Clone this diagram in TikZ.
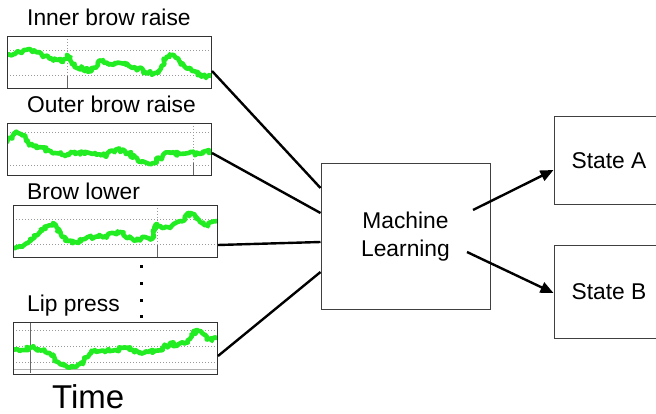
\documentclass[tikz,border=0pt]{standalone}
\usepackage{fontspec}
\setmainfont{Liberation Sans}
\usetikzlibrary{decorations.pathmorphing,arrows.meta,calc}
\definecolor{sgreen}{RGB}{34,236,34}
\begin{document}
\begin{tikzpicture}[x=1pt,y=-1pt,
  plotbox/.style={draw=black!80,line width=1pt,minimum width=204pt,minimum height=52pt,inner sep=0pt,anchor=north west},
  lbl/.style={font=\fontsize{22.8}{26}\selectfont,anchor=base west,inner sep=0pt},
  stbox/.style={draw=black!75,line width=1pt,inner sep=0pt,font=\fontsize{22.8}{28}\selectfont,align=center},
  conn/.style={line width=2.4pt},
  arr/.style={conn,-{Triangle[length=13pt,width=11pt]}},
  sig/.style={draw=sgreen,line width=4.6pt,line join=round,line cap=round,decorate,decoration={random steps,segment length=2pt,amplitude=2.2pt}},
  gridln/.style={draw=black!40,line width=0.7pt,dash pattern=on 0.8pt off 2.2pt},
  tickln/.style={draw=black!60,line width=0.7pt}
]
\pgfmathsetseed{7}
\useasboundingbox (0,0) rectangle (656,414);

% labels
\node[lbl] (l1) at (27,26) {Inner brow raise};
\node[lbl] (l2) at (27,113) {Outer brow raise};
\node[lbl] (l3) at (27,200) {Brow lower};
\node[lbl] (l4) at (27,311) {Lip press};
\node[lbl,font=\fontsize{33}{36}\selectfont] (time) at (52,408.5) {Time};

% plot 1
\draw[gridln] (7,50) -- (211,50) (7,75) -- (211,75);
\draw[gridln] (67,36) -- (67,88);
\draw[tickln] (67,76) -- (67,88);
\begin{scope}
\clip (7,36) rectangle (211,88);
\draw[sig] (7,55) -- (15,54) -- (22,52) -- (30,49) -- (36,52) -- (43,57) -- (50,58) -- (57,60) -- (63,62) -- (67,55) -- (72,64) -- (77,68) -- (85,69) -- (92,70) -- (98,65) -- (103,60) -- (108,64) -- (115,63) -- (125,63) -- (135,67) -- (145,72) -- (155,73) -- (160,70) -- (165,60) -- (170,55) -- (176,58) -- (180,62) -- (185,67) -- (192,71) -- (200,74) -- (206,78) -- (211,76);
\end{scope}
\node[plotbox] (p1) at (7,36) {};

% plot 2
\draw[gridln] (7,132) -- (211,132) (7,165) -- (211,165);
\draw[gridln] (193,123) -- (193,175);
\draw[tickln] (193,163) -- (193,175);
\begin{scope}
\clip (7,123) rectangle (211,175);
\draw[sig] (7,142) -- (12,137) -- (18,133) -- (22,135) -- (27,140) -- (33,146) -- (40,147) -- (48,150) -- (55,153) -- (65,156) -- (75,152) -- (85,154) -- (95,153) -- (105,156) -- (115,150) -- (125,151) -- (135,157) -- (142,162) -- (150,164) -- (157,161) -- (163,155) -- (170,153) -- (180,154) -- (190,152) -- (200,154) -- (211,152);
\end{scope}
\node[plotbox] (p2) at (7,123) {};

% plot 3
\draw[gridln] (13,219) -- (217,219) (13,244) -- (217,244);
\draw[gridln] (157,205) -- (157,257);
\draw[tickln] (157,245) -- (157,257);
\begin{scope}
\clip (13,205) rectangle (217,257);
\draw[sig] (13,248) -- (20,246) -- (28,243) -- (35,237) -- (42,231) -- (48,226) -- (53,223) -- (57,228) -- (62,237) -- (68,241) -- (75,242) -- (85,239) -- (95,237) -- (105,236) -- (113,233) -- (120,232) -- (127,238) -- (135,240) -- (145,237) -- (152,239) -- (157,224) -- (162,228) -- (170,228) -- (178,222) -- (185,218) -- (190,213) -- (195,216) -- (200,222) -- (207,225) -- (217,221);
\end{scope}
\node[plotbox] (p3) at (13,205) {};

% dots
\foreach \yy in {266,283,300,316} \fill (139.5,\yy-1.5) rectangle (142.5,\yy+1.5);

% plot 4
\draw[gridln] (13,330) -- (217,330) (13,346) -- (217,346) (13,362) -- (217,362);
\draw[draw=black!30,line width=0.8pt] (13,369) -- (217,369);
\draw[tickln] (30,322) -- (30,373);
\begin{scope}
\clip (13,322) rectangle (217,373);
\draw[sig] (13,350) -- (22,350) -- (30,348) -- (38,349) -- (45,352) -- (52,356) -- (58,362) -- (65,365) -- (72,367) -- (80,364) -- (88,357) -- (95,350) -- (105,352) -- (115,350) -- (125,347) -- (133,350) -- (140,352) -- (148,352) -- (155,351) -- (162,349) -- (170,343) -- (177,345) -- (185,343) -- (192,336) -- (197,330) -- (202,333) -- (207,337) -- (212,341) -- (217,338);
\end{scope}
\node[plotbox] (p4) at (13,322) {};

% machine learning and states
\node[stbox,minimum width=169pt,minimum height=145pt] (ml) at (405.5,236.5) {Machine\\Learning};
\node[stbox,minimum width=110pt,minimum height=88pt] (sa) at (609,161) {State A};
\node[stbox,minimum width=110pt,minimum height=92pt] (sb) at (609,292) {State B};

% connectors
\draw[conn] (p1.east |- 0,71) -- (ml.west |- 0,188);
\draw[conn] (p2.east |- 0,153) -- (ml.west |- 0,213);
\draw[conn] (p3.east |- 0,245) -- (ml.west |- 0,242);
\draw[conn] (p4.east |- 0,356) -- (ml.west |- 0,272);
\draw[arr] (473,210) -- (sa.west |- 0,170);
\draw[arr] (467,252) -- (sb.west |- 0,293);
\end{tikzpicture}
\end{document}
